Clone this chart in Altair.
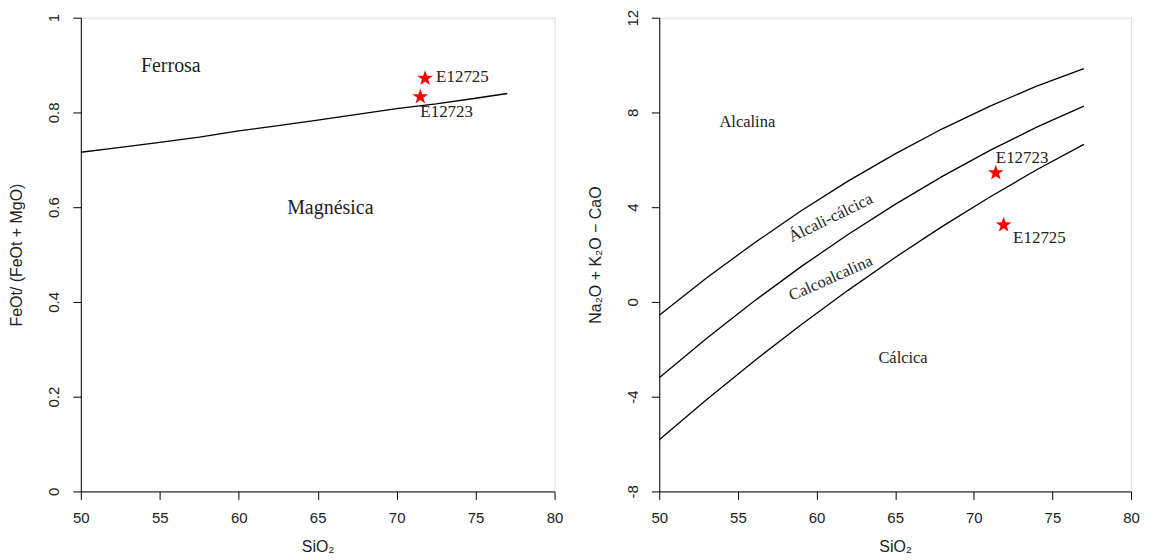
import math
import altair as alt
import pandas as pd

# ---------------- data ----------------
# Left panel: Fe-number boundary (ferroan / magnesian)
fe_sio2 = [50, 52, 55, 57.5, 60, 62.5, 65, 67.5, 70, 72.5, 75, 77]
fe_bound = [0.716, 0.724, 0.737, 0.748, 0.761, 0.772, 0.784, 0.796, 0.808, 0.818, 0.830, 0.840]

# Right panel: MALI boundaries
mali_sio2 = [50, 53, 56, 59, 62, 65, 68, 71, 74, 77]
mali_upper = [-0.56, 1.01, 2.47, 3.84, 5.10, 6.25, 7.31, 8.26, 9.11, 9.85]
mali_middle = [-3.20, -1.54, 0.02, 1.48, 2.85, 4.12, 5.30, 6.39, 7.38, 8.27]
mali_lower = [-5.82, -4.13, -2.51, -0.97, 0.49, 1.88, 3.19, 4.42, 5.58, 6.65]

# Samples
samples = ["E12723", "E12725"]
left_sio2 = [71.5, 71.8]
left_fe = [0.833, 0.872]
right_sio2 = [71.4, 71.9]
right_mali = [5.45, 3.25]

# Sample label anchors (data coordinates)
left_lab_x = [71.5, 72.5]
left_lab_y = [0.800, 0.874]
right_lab_x = [71.4, 72.5]
right_lab_y = [6.08, 2.70]

# Field names
left_fields = ["Ferrosa", "Magnésica"]
left_field_x = [55.7, 65.8]
left_field_y = [0.898, 0.599]
right_fields = ["Alcalina", "Cálcica"]
right_field_x = [55.6, 65.5]
right_field_y = [7.58, -2.35]
right_rot_fields = ["Álcali-cálcica", "Calcoalcalina"]
right_rot_x = [60.9, 60.9]
right_rot_y = [3.55, 1.00]
right_rot_angle = [334, 336]

x_ticks = [50, 55, 60, 65, 70, 75, 80]
left_y_ticks = [0, 0.2, 0.4, 0.6, 0.8, 1]
right_y_ticks = [-8, -4, 0, 4, 8, 12]

# ---------------- styles ----------------
SANS = "Liberation Sans"
SERIF = "Liberation Serif"
W, H = 475, 475

# five-pointed star path in unit coordinates
pts = []
for k in range(10):
    r = 1.0 if k % 2 == 0 else 0.40
    a = math.radians(-90 + 36 * k)
    pts.append(f"{r * math.cos(a):.4f},{r * math.sin(a):.4f}")
STAR = "M" + "L".join(pts) + "Z"


def x_axis():
    return alt.Axis(values=x_ticks, tickSize=8, tickColor="black", domainColor="black",
                    labelFont=SANS, labelFontSize=15, labelColor="#222", labelPadding=11,
                    titleFont=SANS, titleFontSize=16, titleFontWeight="normal", titleColor="#222",
                    titlePadding=13, grid=False, labelFlush=False)


def y_axis(vals, fmt=None, expr=None):
    kw = dict(values=vals, tickSize=8, tickColor="black", domainColor="black",
              labelFont=SANS, labelFontSize=15, labelColor="#222", labelPadding=11,
              labelAngle=270, labelAlign="center", labelBaseline="bottom",
              titleFont=SANS, titleFontSize=16, titleFontWeight="normal", titleColor="#222",
              titlePadding=22, grid=False, labelFlush=False)
    if fmt:
        kw["format"] = fmt
    if expr:
        kw["labelExpr"] = expr
    return alt.Axis(**kw)


xscale = alt.Scale(domain=[50, 80], nice=False, zero=False)

# ---------------- left panel ----------------
lscale = alt.Scale(domain=[0, 1], nice=False, zero=False)
df_fe = pd.DataFrame({"x": fe_sio2, "y": fe_bound})
df_ls = pd.DataFrame({"x": left_sio2, "y": left_fe, "name": samples})
df_ll = pd.DataFrame({"x": left_lab_x, "y": left_lab_y, "name": samples})
df_lf = pd.DataFrame({"x": left_field_x, "y": left_field_y, "name": left_fields})

l_line = alt.Chart(df_fe).mark_line(color="black", strokeWidth=1.3).encode(
    x=alt.X("x:Q", scale=xscale, axis=x_axis(), title="SiO₂"),
    y=alt.Y("y:Q", scale=lscale, axis=y_axis(left_y_ticks, fmt=".1~f"), title="FeOt/ (FeOt + MgO)"),
)
l_star = alt.Chart(df_ls).mark_point(shape=STAR, filled=True, color="red", size=270, opacity=1).encode(
    x="x:Q", y="y:Q")
l_lab = alt.Chart(df_ll).mark_text(font=SERIF, fontSize=17, align="left", color="#222").encode(
    x="x:Q", y="y:Q", text="name:N")
l_field = alt.Chart(df_lf).mark_text(font=SERIF, fontSize=20, align="center", color="#222").encode(
    x="x:Q", y="y:Q", text="name:N")
left = alt.layer(l_line, l_star, l_lab, l_field).properties(width=W, height=H)

# ---------------- right panel ----------------
rscale = alt.Scale(domain=[-8, 12], nice=False, zero=False)
rows = []
for name, vals in [("upper", mali_upper), ("middle", mali_middle), ("lower", mali_lower)]:
    for xv, yv in zip(mali_sio2, vals):
        rows.append({"x": xv, "y": yv, "curve": name})
df_mali = pd.DataFrame(rows)
df_rs = pd.DataFrame({"x": right_sio2, "y": right_mali, "name": samples})
df_rl = pd.DataFrame({"x": right_lab_x, "y": right_lab_y, "name": samples})
df_rf = pd.DataFrame({"x": right_field_x, "y": right_field_y, "name": right_fields})
df_rr = pd.DataFrame({"x": right_rot_x, "y": right_rot_y, "name": right_rot_fields, "ang": right_rot_angle})

r_line = alt.Chart(df_mali).mark_line(color="black", strokeWidth=1.3).encode(
    x=alt.X("x:Q", scale=xscale, axis=x_axis(), title="SiO₂"),
    y=alt.Y("y:Q", scale=rscale, axis=y_axis(right_y_ticks, expr="'' + datum.value"),
            title="Na₂O + K₂O − CaO"),
    detail="curve:N",
)
r_star = alt.Chart(df_rs).mark_point(shape=STAR, filled=True, color="red", size=270, opacity=1).encode(
    x="x:Q", y="y:Q")
r_lab = alt.Chart(df_rl).mark_text(font=SERIF, fontSize=17, align="left", color="#222").encode(
    x="x:Q", y="y:Q", text="name:N")
r_field = alt.Chart(df_rf).mark_text(font=SERIF, fontSize=16.5, align="center", color="#222").encode(
    x="x:Q", y="y:Q", text="name:N")
r_rot = alt.Chart(df_rr).mark_text(font=SERIF, fontSize=16.5, align="center", color="#222").encode(
    x="x:Q", y="y:Q", text="name:N", angle=alt.Angle("ang:Q", scale=None))
right = alt.layer(r_line, r_star, r_lab, r_field, r_rot).properties(width=W - 2, height=H)

chart = alt.hconcat(left, right, spacing=23).properties(
    padding={"left": 0, "top": 0, "right": 5, "bottom": 5}
).configure_view(stroke="black", strokeWidth=1.2).configure(background="white")

chart.save("out.html", embed_options={"renderer": "svg", "actions": False})
